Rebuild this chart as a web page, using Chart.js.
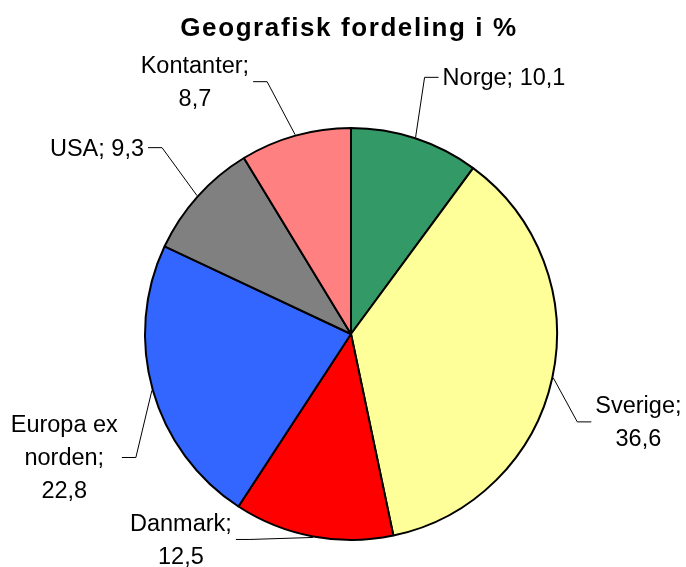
<!DOCTYPE html>
<html><head><meta charset="utf-8">
<script src="https://cdn.jsdelivr.net/npm/chart.js@4.4.1/dist/chart.umd.min.js"></script>
<style>html,body{margin:0;padding:0;background:#fff;}#wrap{width:686px;height:567px;}</style>
</head><body><div id="wrap"><canvas id="c" width="686" height="567"></canvas></div>
<script>
const chartTitle = 'Geografisk fordeling i %';
const categories = ['Norge', 'Sverige', 'Danmark', 'Europa ex norden', 'USA', 'Kontanter'];
const values = [10.1, 36.6, 12.5, 22.8, 9.3, 8.7];
const colors = ['#339966', '#FFFF99', '#FF0000', '#3366FF', '#808080', '#FF8080'];

// label styling: elbow offset from arc edge [dx, dy, side], wrap width
const labelStyle = [
  {dx: 9, dy: -60, side: 1, wrap: 140},
  {dx: 24, dy: 44, side: 1, wrap: 100},
  {dx: -63, dy: 2, side: -1, wrap: 115},
  {dx: -16, dy: 67, side: -1, wrap: 120},
  {dx: -35, dy: -48, side: -1, wrap: 105},
  {dx: -28, dy: -53, side: -1, wrap: 120}
];
const FONT = '23.5px "Liberation Sans", Arial, sans-serif';
const LINE_H = 33;

function fmt(v) { return v.toFixed(1).replace('.', ','); }

function wrapText(ctx, text, maxW) {
  const words = text.split(' ');
  const lines = [];
  let cur = '';
  words.forEach(w => {
    const t = cur ? cur + ' ' + w : w;
    if (cur && ctx.measureText(t).width > maxW) { lines.push(cur); cur = w; }
    else cur = t;
  });
  if (cur) lines.push(cur);
  return lines;
}

const titlePlugin = {
  id: 'customTitle',
  afterDraw(chart) {
    const ctx = chart.ctx;
    ctx.save();
    ctx.font = 'bold 26px "Liberation Sans", Arial, sans-serif';
    ctx.fillStyle = '#000';
    if ('letterSpacing' in ctx) ctx.letterSpacing = '1.6px';
    ctx.textAlign = 'center';
    ctx.textBaseline = 'alphabetic';
    ctx.fillText(chartTitle, 349, 36);
    ctx.restore();
  }
};

const leaderPlugin = {
  id: 'leaders',
  afterDatasetsDraw(chart) {
    const ctx = chart.ctx;
    const meta = chart.getDatasetMeta(0);
    ctx.save();
    ctx.font = FONT;
    meta.data.forEach((arc, i) => {
      const p = arc.getProps(['x', 'y', 'startAngle', 'endAngle', 'outerRadius'], true);
      const mid = (p.startAngle + p.endAngle) / 2;
      const r = p.outerRadius + 1;
      const ex = p.x + Math.cos(mid) * r, ey = p.y + Math.sin(mid) * r;
      const st = labelStyle[i];
      const bx = ex + st.dx, by = ey + st.dy;
      const tx = bx + st.side * 14;
      ctx.strokeStyle = '#000';
      ctx.lineWidth = 1;
      ctx.beginPath();
      ctx.moveTo(ex, ey);
      ctx.lineTo(bx, by);
      ctx.lineTo(tx, by);
      ctx.stroke();
      const text = categories[i] + '; ' + fmt(values[i]);
      const lines = wrapText(ctx, text, st.wrap);
      const blockW = Math.max(...lines.map(l => ctx.measureText(l).width));
      const gap = 4;
      const cx = st.side > 0 ? tx + gap + blockW / 2 : tx - gap - blockW / 2;
      const top = by + 1.5 - (lines.length - 1) * LINE_H / 2;
      ctx.fillStyle = '#000';
      ctx.textAlign = 'center';
      ctx.textBaseline = 'middle';
      lines.forEach((l, k) => ctx.fillText(l, cx, top + k * LINE_H));
    });
    ctx.restore();
  }
};

new Chart(document.getElementById('c'), {
  type: 'pie',
  data: {
    labels: categories,
    datasets: [{
      data: values,
      backgroundColor: colors,
      borderColor: '#000',
      borderWidth: 2,
      hoverOffset: 0,
      offset: 0
    }]
  },
  options: {
    responsive: false,
    animation: false,
    events: [],
    layout: {padding: {top: 127, bottom: 26, left: 144, right: 128}},
    plugins: {legend: {display: false}, tooltip: {enabled: false}, title: {display: false}}
  },
  plugins: [leaderPlugin, titlePlugin]
});
</script>
</body></html>
